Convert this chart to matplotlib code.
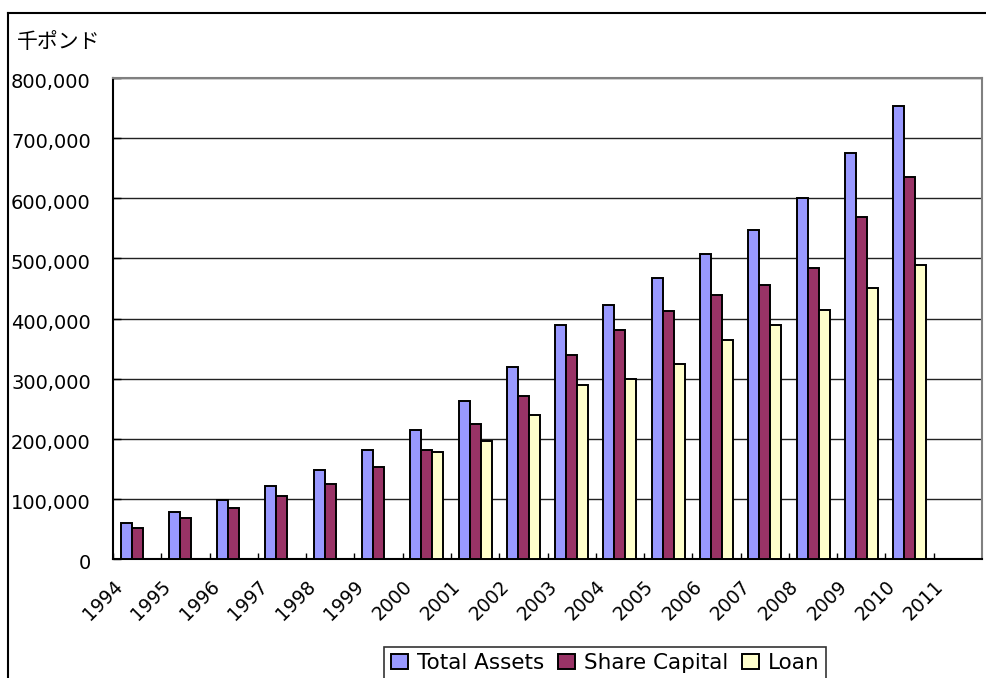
import numpy as np
import matplotlib
matplotlib.use('Agg')
from matplotlib import pyplot as plt
from matplotlib.lines import Line2D
from matplotlib.ticker import FuncFormatter
from matplotlib.transforms import ScaledTranslation

# annual figures in thousand pounds
years = list(range(1994, 2011))
year_labels = [str(y) for y in range(1994, 2012)]
total_assets = [60700, 79000, 98700, 122000, 148000, 181000, 215000, 262600, 319000,
                388500, 422000, 467000, 507000, 548000, 599600, 675000, 753700]
share_capital = [51000, 68000, 85000, 105000, 125000, 153000, 181000, 224000, 271500,
                 338600, 380700, 411800, 439600, 456000, 484000, 568700, 635000]
loan = [np.nan, np.nan, np.nan, np.nan, np.nan, np.nan, 178000, 197000, 240000,
        290000, 299000, 324800, 364000, 388600, 414700, 450000, 489400]
series_names = ['Total Assets', 'Share Capital', 'Loan']
colors = ['#9999FF', '#993366', '#FFFFCC']

fig = plt.figure(figsize=(9.87, 6.78), dpi=100)
ax = fig.add_axes([113/987, 1 - 559/678, (982 - 113)/987, (559 - 78)/678])

x = np.arange(len(years)) + 0.5
w = 0.228
for k, vals in enumerate([total_assets, share_capital, loan]):
    ax.bar(x + (k - 1)*w, vals, width=w, color=colors[k], edgecolor='black',
           linewidth=1.4, label=series_names[k], zorder=3)

ax.set_xlim(0, len(year_labels))
ax.set_ylim(0, 800000)
ax.set_yticks(np.arange(0, 800001, 100000))
ax.yaxis.set_major_formatter(FuncFormatter(lambda v, p: f'{int(v):,}'))
ax.grid(axis='y', color='#222222', linewidth=1.0, zorder=0)

ax.set_xticks(np.arange(len(year_labels)))
ax.set_xticklabels(year_labels, rotation=45, ha='right', va='top',
                   rotation_mode='anchor')
ax.tick_params(axis='x', direction='in', length=4.5, width=1, pad=13, labelsize=13.5)
ax.tick_params(axis='y', direction='in', length=5.5, width=1, pad=16, labelsize=14)

# nudge the value labels slightly below their gridlines
shift = ScaledTranslation(0, -2/72, fig.dpi_scale_trans)
for lbl in ax.get_yticklabels():
    lbl.set_transform(lbl.get_transform() + shift)

for side in ['left', 'bottom']:
    ax.spines[side].set_color('black')
    ax.spines[side].set_linewidth(1.5)
for side in ['top', 'right']:
    ax.spines[side].set_color('#808080')
    ax.spines[side].set_linewidth(1.5)

fig.text(17/987, 1 - 31/678, '千ポンド', ha='left', va='top', fontsize=15,
         family=['Noto Sans CJK JP', 'DejaVu Sans'])

leg = fig.legend(loc='upper center', bbox_to_anchor=(605/987, 1 - 647/678),
                 ncol=3, fontsize=15.5, frameon=True, fancybox=False,
                 edgecolor='black', handlelength=0.8, handleheight=0.7,
                 handletextpad=0.4, columnspacing=0.65, borderpad=0.3,
                 borderaxespad=0)
leg.get_frame().set_linewidth(1.2)

# outer chart border
fig.add_artist(Line2D([8/987, 1], [1 - 13/678, 1 - 13/678], color='black',
                      linewidth=1.5, transform=fig.transFigure))
fig.add_artist(Line2D([8/987, 8/987], [0, 1 - 13/678], color='black',
                      linewidth=1.5, transform=fig.transFigure))

fig.savefig('out.png', dpi=100)
